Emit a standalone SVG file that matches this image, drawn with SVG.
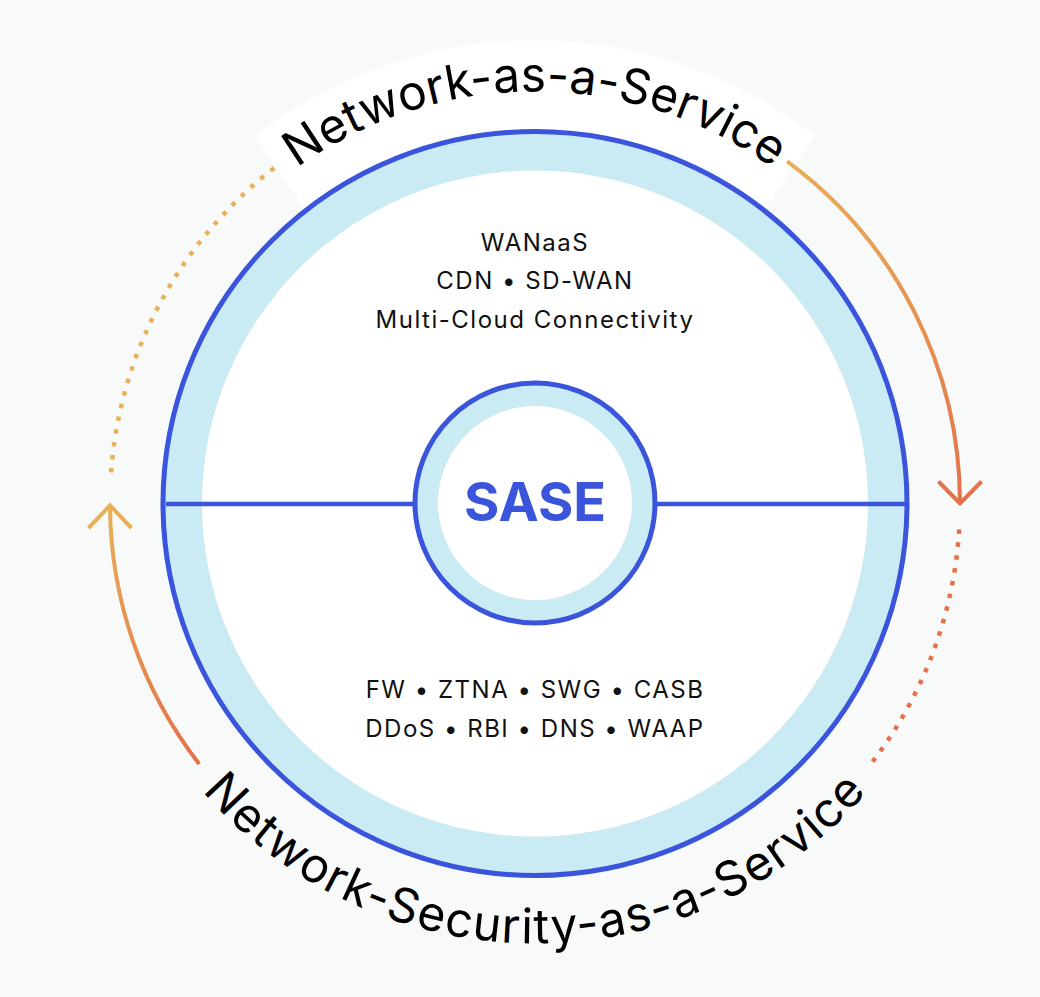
<svg xmlns="http://www.w3.org/2000/svg" width="1040" height="997" viewBox="0 0 1040 997">
  <defs>
    <linearGradient id="gradR" gradientUnits="userSpaceOnUse" x1="0" y1="160" x2="0" y2="505">
      <stop offset="0" stop-color="#e9ae57"/>
      <stop offset="1" stop-color="#e3714a"/>
    </linearGradient>
    <linearGradient id="gradL" gradientUnits="userSpaceOnUse" x1="0" y1="766" x2="0" y2="505">
      <stop offset="0" stop-color="#e3714a"/>
      <stop offset="1" stop-color="#e9b058"/>
    </linearGradient>
    <path id="arcTop" d="M179.9,298.5 A408,408 0 0 1 890.1,298.5"/>
    <path id="arcBottom" d="M154,723.5 A440,440 0 0 0 916,723.5"/>
    <style>
      .ring { stroke: #3a55dc; stroke-width: 5; }
      .spoke { stroke: #3a55dc; stroke-width: 4.5; fill: none; }
      .body { font-family: Inter, "Noto Sans", "Liberation Sans", sans-serif; font-size: 24px; letter-spacing: 1.5px; fill: #111111; text-anchor: middle; }
      .arcLabel { font-family: Inter, "Noto Sans", "Liberation Sans", sans-serif; font-size: 48px; fill: #000000; }
      .dots { fill: none; stroke-width: 4.5; stroke-dasharray: 4.5 8.5; }
      .solid { fill: none; stroke-width: 4; }
    </style>
  </defs>

  <rect x="0" y="0" width="1040" height="997" fill="#f8fafa"/>

  <!-- white band behind top label -->
  <path d="M255,136 A458,458 0 0 1 815,136 L764,210.4 A372,372 0 0 0 306,210.4 Z" fill="#ffffff"/>

  <g id="outer-ring">
    <circle cx="535" cy="503.5" r="372" fill="#cbebf4" class="ring"/>
    <circle cx="535" cy="503.5" r="333" fill="#ffffff"/>
  </g>

  <g id="connectors">
    <line x1="166" y1="504" x2="416" y2="504" class="spoke"/>
    <line x1="655" y1="504" x2="905" y2="504" class="spoke"/>
    <!-- right solid arrow -->
    <path d="M787.2,161.4 A425,425 0 0 1 960,503.5" class="solid" stroke="url(#gradR)"/>
    <path d="M938.5,481.5 L960,503.5 L981.5,481.5" class="solid" stroke="#e3714a"/>
    <!-- right dotted -->
    <path d="M959.2,529.4 A425,425 0 0 1 871.7,762.8" class="dots" stroke="#e4714a"/>
    <!-- left solid arrow -->
    <path d="M199.2,764 A425,425 0 0 1 110,505" class="solid" stroke="url(#gradL)"/>
    <path d="M88.5,528 L110,505.5 L131.5,528" class="solid" stroke="#e9b058"/>
    <!-- left dotted -->
    <path d="M111.1,472.4 A425,425 0 0 1 277.4,165.4" class="dots" stroke="#e9b058"/>
  </g>

  <g id="sase">
    <circle cx="535" cy="503" r="120" fill="#cbebf4" class="ring"/>
    <circle cx="535" cy="503" r="97" fill="#ffffff"/>
    <text x="535" y="521" font-family="Inter, 'Noto Sans', 'Liberation Sans', sans-serif" font-size="54" font-weight="700" fill="#3a55dc" text-anchor="middle">SASE</text>
  </g>

  <g id="network-services">
    <text class="body" x="535" y="251">WANaaS</text>
    <text class="body" x="535" y="289">CDN • SD-WAN</text>
    <text class="body" x="535" y="328">Multi-Cloud Connectivity</text>
  </g>

  <g id="security-services">
    <text class="body" x="535" y="698">FW • ZTNA • SWG • CASB</text>
    <text class="body" x="535" y="737">DDoS • RBI • DNS • WAAP</text>
  </g>

  <g id="label-naas">
    <text class="arcLabel"><textPath href="#arcTop" startOffset="50%" text-anchor="middle">Network-as-a-Service</textPath></text>
  </g>

  <g id="label-nsaas">
    <text class="arcLabel" letter-spacing="1.3"><textPath href="#arcBottom" startOffset="50%" text-anchor="middle">Network-Security-as-a-Service</textPath></text>
  </g>
</svg>
